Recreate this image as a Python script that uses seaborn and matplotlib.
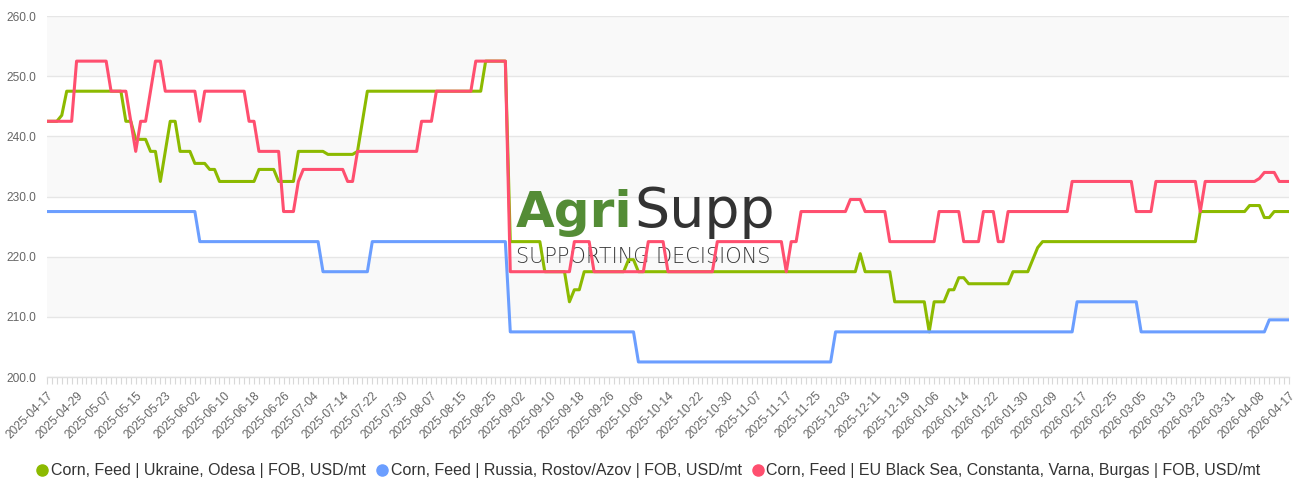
import numpy as np
import pandas as pd
import matplotlib
matplotlib.use("Agg")
import matplotlib.pyplot as plt
import seaborn as sns
from matplotlib.lines import Line2D

# ---------------- data ----------------
tick_labels = [
    "2025-04-17", "2025-04-29", "2025-05-07", "2025-05-15", "2025-05-23", "2025-06-02",
    "2025-06-10", "2025-06-18", "2025-06-26", "2025-07-04", "2025-07-14", "2025-07-22",
    "2025-07-30", "2025-08-07", "2025-08-15", "2025-08-25", "2025-09-02", "2025-09-10",
    "2025-09-18", "2025-09-26", "2025-10-06", "2025-10-14", "2025-10-22", "2025-10-30",
    "2025-11-07", "2025-11-17", "2025-11-25", "2025-12-03", "2025-12-11", "2025-12-19",
    "2026-01-06", "2026-01-14", "2026-01-22", "2026-01-30", "2026-02-09", "2026-02-17",
    "2026-02-25", "2026-03-05", "2026-03-13", "2026-03-23", "2026-03-31", "2026-04-08",
    "2026-04-17",
]

series_names = [
    "Corn, Feed | Ukraine, Odesa | FOB, USD/mt",
    "Corn, Feed | Russia, Rostov/Azov | FOB, USD/mt",
    "Corn, Feed | EU Black Sea, Constanta, Varna, Burgas | FOB, USD/mt",
]

# step levels (USD/mt) and how many trading days each level lasts
ukraine_levels = [242.5, 243.5, 247.5, 242.5, 239.5, 237.5, 232.5, 237.5, 242.5, 237.5,
                  235.5, 234.5, 232.5, 234.5, 232.5, 237.5, 237.0, 237.5, 242.5, 247.5,
                  252.5, 222.5, 217.5, 212.5, 214.5, 217.5, 219.5, 217.5, 220.5, 217.5,
                  212.5, 207.5, 212.5, 214.5, 216.5, 215.5, 217.5, 219.5, 221.5, 222.5,
                  227.5, 228.5, 226.5, 227.5]
ukraine_days = [3, 1, 12, 2, 3, 2, 1, 1, 2, 3,
                3, 2, 8, 4, 4, 6, 6, 1, 1, 24,
                5, 7, 5, 1, 2, 9, 2, 45, 1, 6,
                7, 1, 3, 2, 2, 9, 4, 1, 1, 32,
                10, 3, 2, 4]

russia_levels = [227.5, 222.5, 217.5, 222.5, 207.5, 202.5, 207.5, 212.5, 207.5, 209.5]
russia_days = [31, 25, 10, 28, 26, 40, 49, 13, 26, 5]

eu_levels = [242.5, 252.5, 247.5, 242.5, 237.5, 242.5, 247.5, 252.5, 247.5, 242.5,
             247.5, 242.5, 237.5, 227.5, 232.5, 234.5, 232.5, 237.5, 242.5, 247.5,
             252.5, 217.5, 222.5, 217.5, 222.5, 217.5, 222.5, 217.5, 222.5, 227.5,
             229.5, 227.5, 222.5, 227.5, 222.5, 227.5, 222.5, 227.5, 232.5, 227.5,
             232.5, 227.5, 232.5, 233.0, 234.0, 232.5]
eu_days = [6, 7, 4, 1, 1, 2, 1, 2, 7, 1,
           9, 2, 5, 3, 1, 9, 2, 13, 3, 8,
           7, 13, 4, 11, 4, 10, 14, 1, 2, 10,
           3, 5, 10, 5, 4, 3, 2, 13, 13, 4,
           9, 1, 11, 1, 3, 3]

colors = ["#8cba00", "#6b9eff", "#ff4f6f"]

# ---------------- build frame ----------------
ukraine = np.repeat(ukraine_levels, ukraine_days)
russia = np.repeat(russia_levels, russia_days)
eu = np.repeat(eu_levels, eu_days)
n = len(ukraine)
idx = np.arange(n)
df = pd.DataFrame({
    "idx": np.concatenate([idx, idx, idx]),
    "price": np.concatenate([ukraine, russia, eu]),
    "series": np.repeat(series_names, n),
})

# ---------------- style ----------------
sns.set_style("white")
plt.rcParams["font.family"] = ["Liberation Sans", "DejaVu Sans"]

W, H = 1301, 483
fig = plt.figure(figsize=(W / 100, H / 100), dpi=100)
left, right, top, bottom = 47, 1289, 16, 377
ax = fig.add_axes([left / W, 1 - bottom / H, (right - left) / W, (bottom - top) / H])

for lo in (210, 230, 250):
    ax.axhspan(lo, lo + 10, color="#f9f9f9", lw=0, zorder=0)

sns.lineplot(data=df, x="idx", y="price", hue="series", hue_order=series_names,
             palette=colors, linewidth=2.2, ax=ax, legend=False,
             estimator=None, sort=False)
for ln in ax.lines:
    ln.set_solid_joinstyle("round")
    ln.set_solid_capstyle("round")
    ln.set_zorder(3)

ax.set_xlim(0, n - 1)
ax.set_ylim(200, 260)
ax.set_yticks(np.arange(200, 261, 10))
ax.set_yticklabels([f"{v:.1f}" for v in np.arange(200, 261, 10)])
ax.yaxis.grid(True, color="#e6e6e6", linewidth=1)
ax.set_axisbelow(True)

ax.set_xticks(idx[::6])
ax.set_xticklabels(tick_labels, rotation=45, ha="right", rotation_mode="anchor")
ax.set_xticks(idx, minor=True)
ax.tick_params(axis="x", which="both", length=5, width=0.8, color="#d8d8d8",
               labelsize=8.6, labelcolor="#666666", pad=4, direction="out", bottom=True)
ax.tick_params(axis="y", length=0, labelsize=8.6, labelcolor="#666666", pad=7.5)

for s in ("top", "right", "left"):
    ax.spines[s].set_visible(False)
ax.spines["bottom"].set_color("#e0e0e0")
ax.spines["bottom"].set_linewidth(1)
ax.set_xlabel("")
ax.set_ylabel("")

# watermark logo (beneath the lines)
ax.text(516 / W, 1 - 227 / H, "Agri", transform=fig.transFigure, fontsize=36,
        fontweight="bold", color="#548c36", family="DejaVu Sans",
        va="baseline", ha="left", zorder=2)
ax.text(634 / W, 1 - 227 / H, "Supp", transform=fig.transFigure, fontsize=40,
        color="#333333", family="DejaVu Sans", va="baseline", ha="left", zorder=2)
ax.text(516 / W, 1 - 263 / H, "SUPPORTING DECISIONS", transform=fig.transFigure,
        fontsize=15, fontweight="light", color="#3a3a3a", family="DejaVu Sans",
        va="baseline", ha="left", zorder=2)

# legend
handles = [Line2D([], [], marker="o", linestyle="", markersize=8, color=c) for c in colors]
fig.legend(handles, series_names, loc="center", bbox_to_anchor=(647.5 / W, 1 - 471 / H),
           ncol=3, frameon=False, handletextpad=0.05, columnspacing=0.5,
           handlelength=1.0, fontsize=11.5, labelcolor="#333333", borderaxespad=0)

fig.savefig("out.png", dpi=100)
